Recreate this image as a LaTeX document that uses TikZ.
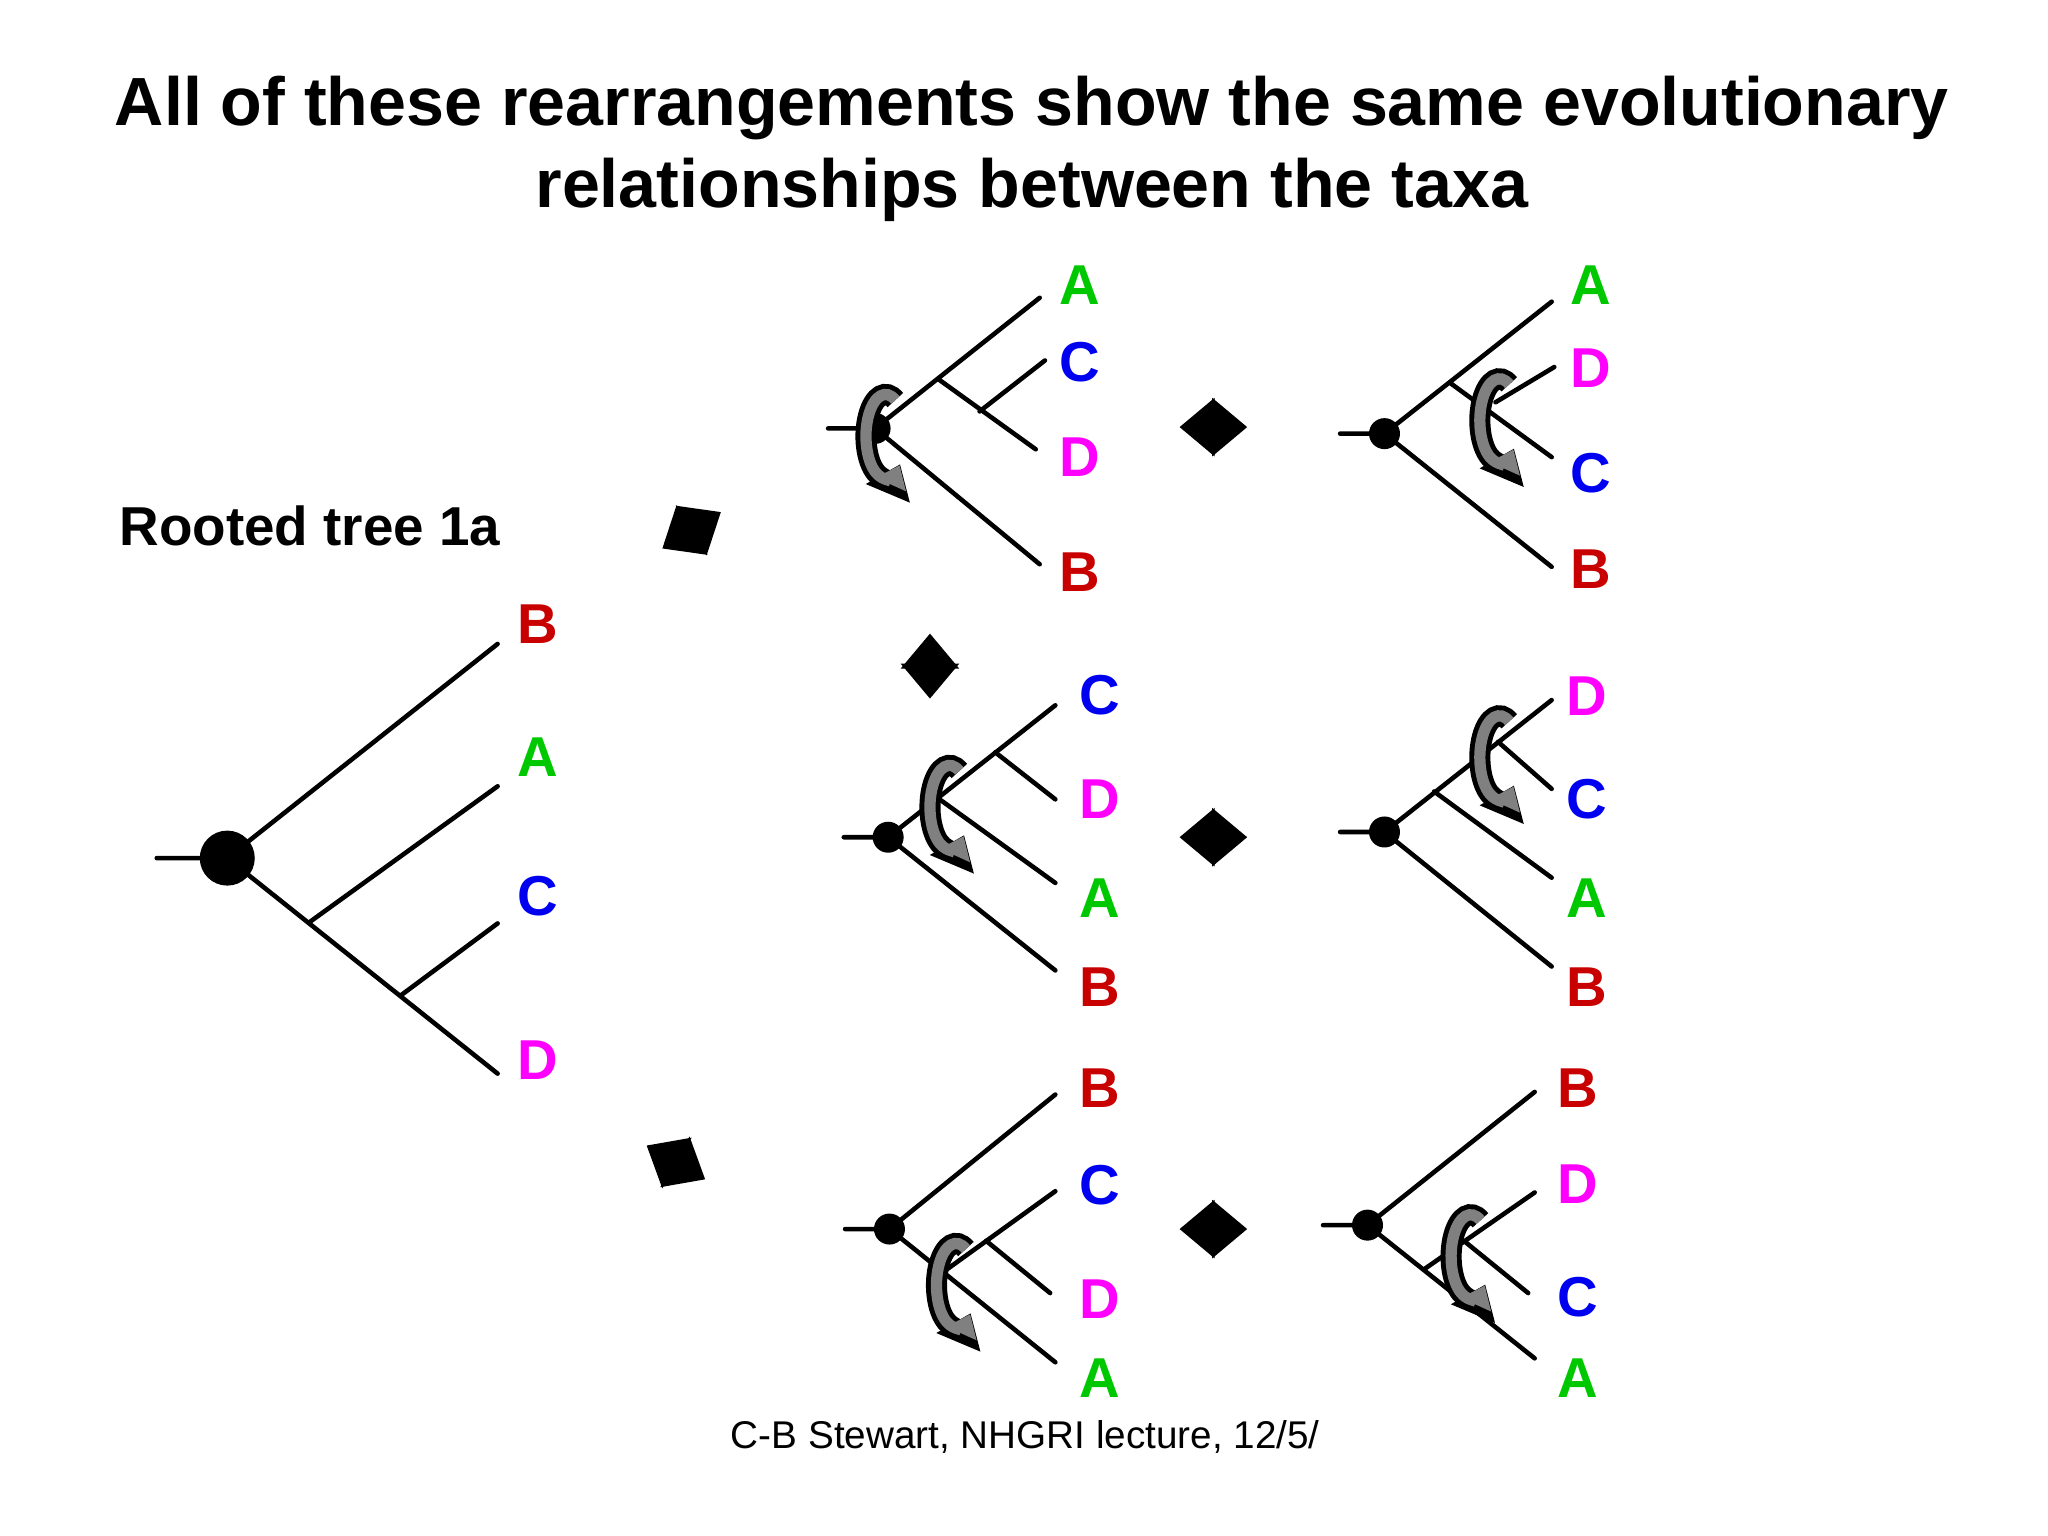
\documentclass[tikz,border=0pt]{standalone}
\usepackage{fontspec}
\setmainfont{Liberation Sans}
\usetikzlibrary{arrows.meta}
\definecolor{tgreen}{RGB}{0,200,0}
\definecolor{tblue}{RGB}{0,0,240}
\definecolor{tmag}{RGB}{255,0,255}
\definecolor{tred}{RGB}{200,0,0}
\definecolor{rotgray}{RGB}{128,128,128}

\newcommand{\rotarrow}[2]{%
  \draw[black,line width=6pt,-{Triangle[length=9pt,width=13pt]}] ([shift={(-60:15 and 32)}]#1,#2) arc[start angle=-60,end angle=-318,x radius=15,y radius=32];
  \draw[rotgray,line width=3.2pt,-{Triangle[length=6pt,width=9pt]}] ([shift={(-60:15 and 32)}]#1,#2) arc[start angle=-60,end angle=-316,x radius=15,y radius=32];}

\begin{document}
\begin{tikzpicture}[x=0.013061cm, y=-0.013061cm, >=latex,
  br/.style={line width=1.3pt, line cap=round},
  dot/.style={circle,inner sep=0pt,minimum size=#1,fill},
  leaf/.style={font=\fontsize{16}{16}\selectfont\bfseries, anchor=west},
  swap/.style={line width=4pt,{Triangle[length=10pt,width=16pt]}-{Triangle[length=10pt,width=16pt]}}]
\useasboundingbox (0,0) rectangle (1568,1176);

% title
\node (t1) at (790,83) {\fontsize{19.4}{22}\selectfont\bfseries All of these rearrangements show the same evolutionary};
\node (t2) at (790,145) {\fontsize{19.4}{22}\selectfont\bfseries relationships between the taxa};
\node[anchor=west] (lbl) at (82,403) {\fontsize{15.6}{18}\selectfont\bfseries Rooted tree 1a};
\node (credit) at (785,1100) {\fontsize{11}{13}\selectfont C-B Stewart, NHGRI lecture, 12/5/};

% rooted tree 1a
\node[dot=0.55cm] (r0) at (174,657) {};
\coordinate (s0) at (120,657);
\coordinate (n0a) at (237,706);
\coordinate (n0b) at (307,762);
\node[leaf,tred] (b0) at (387,478) {B};
\node[leaf,tgreen] (a0) at (387,580) {A};
\node[leaf,tblue] (c0) at (387,686) {C};
\node[leaf,tmag] (d0) at (387,812) {D};
\draw[br] (s0) -- (r0.center) -- (381,493);
\draw[br] (r0.center) -- (381,822);
\draw[br] (n0a) -- (381,602);
\draw[br] (n0b) -- (381,707);

% top middle
\draw[br] (634,328) -- (670,328) -- (796,228);
\draw[br] (670,328) -- (796,432);
\draw[br] (718,290) -- (793,344);
\draw[br] (750,315) -- (800,276);
\node[dot=0.31cm] (r1) at (670,328) {};
\node[leaf,tgreen] (a1) at (802,218) {A};
\node[leaf,tblue] (c1) at (802,277) {C};
\node[leaf,tmag] (d1) at (802,350) {D};
\node[leaf,tred] (b1) at (802,438) {B};
\rotarrow{678}{334}

% top right
\draw[br] (1026,332) -- (1060,332) -- (1188,231);
\draw[br] (1060,332) -- (1188,434);
\draw[br] (1110,293) -- (1188,350);
\draw[br] (1145,308) -- (1190,281);
\node[dot=0.31cm] (r2) at (1060,332) {};
\node[leaf,tgreen] (a2) at (1193,218) {A};
\node[leaf,tmag] (d2) at (1193,282) {D};
\node[leaf,tblue] (c2) at (1193,362) {C};
\node[leaf,tred] (b2) at (1193,436) {B};
\rotarrow{1148}{322}

% middle middle
\draw[br] (646,641) -- (680,641) -- (808,540);
\draw[br] (680,641) -- (808,743);
\draw[br] (762,576) -- (808,612);
\draw[br] (718,611) -- (808,676);
\node[dot=0.31cm] (r3) at (680,641) {};
\node[leaf,tblue] (c3) at (817,532) {C};
\node[leaf,tmag] (d3) at (817,612) {D};
\node[leaf,tgreen] (a3) at (817,688) {A};
\node[leaf,tred] (b3) at (817,756) {B};
\rotarrow{727}{618}

% middle right
\draw[br] (1026,637) -- (1060,637) -- (1188,536);
\draw[br] (1060,637) -- (1188,740);
\draw[br] (1147,568) -- (1188,604);
\draw[br] (1098,606) -- (1188,672);
\node[dot=0.31cm] (r4) at (1060,637) {};
\node[leaf,tmag] (d4) at (1190,533) {D};
\node[leaf,tblue] (c4) at (1190,612) {C};
\node[leaf,tgreen] (a4) at (1190,688) {A};
\node[leaf,tred] (b4) at (1190,756) {B};
\rotarrow{1148}{580}

% bottom middle
\draw[br] (647,941) -- (681,941) -- (808,838);
\draw[br] (681,941) -- (808,1043);
\draw[br] (722,974) -- (808,912);
\draw[br] (755,950) -- (804,990);
\node[dot=0.31cm] (r5) at (681,941) {};
\node[leaf,tred] (b5) at (817,833) {B};
\node[leaf,tblue] (c5) at (817,907) {C};
\node[leaf,tmag] (d5) at (817,995) {D};
\node[leaf,tgreen] (a5) at (817,1055) {A};
\rotarrow{732}{984}

% bottom right
\draw[br] (1013,938) -- (1047,938) -- (1175,836);
\draw[br] (1047,938) -- (1175,1040);
\draw[br] (1090,972) -- (1175,913);
\draw[br] (1122,951) -- (1170,990);
\node[dot=0.31cm] (r6) at (1047,938) {};
\node[leaf,tred] (b6) at (1183,833) {B};
\node[leaf,tmag] (d6) at (1183,907) {D};
\node[leaf,tblue] (c6) at (1183,993) {C};
\node[leaf,tgreen] (a6) at (1183,1055) {A};
\rotarrow{1126}{962}

% swaps
\coordinate (p1) at (507,420); \coordinate (q1) at (552,392);
\coordinate (p2) at (903,327); \coordinate (q2) at (955,327);
\coordinate (p3) at (712,485); \coordinate (q3) at (712,535);
\coordinate (p4) at (903,641); \coordinate (q4) at (955,641);
\coordinate (p5) at (495,877); \coordinate (q5) at (540,903);
\coordinate (p6) at (903,941); \coordinate (q6) at (955,941);
\foreach \i in {1,...,6} \draw[swap] (p\i) -- (q\i);
\end{tikzpicture}
\end{document}
